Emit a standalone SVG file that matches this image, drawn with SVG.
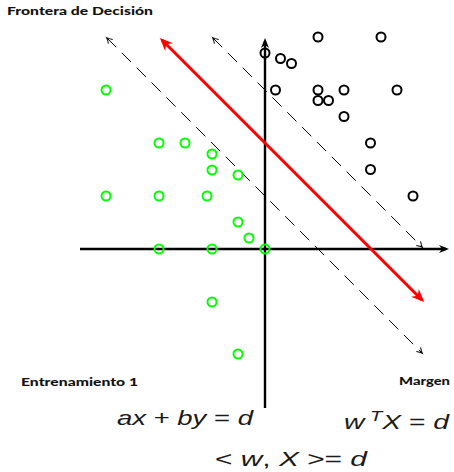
<svg xmlns="http://www.w3.org/2000/svg" width="454" height="472" viewBox="0 0 454 472">
<style>
.g{fill:none;stroke:#00ff00;stroke-width:2}
.k{fill:none;stroke:#000;stroke-width:2}
.axis{stroke:#000;stroke-width:2.4;fill:none}
.dash{stroke:#000;stroke-width:1;fill:none;stroke-dasharray:13 8}
.red{stroke:#ff0000;stroke-width:3;fill:none}
.lbl{font-family:"Lato","DejaVu Sans",sans-serif;font-weight:900;font-size:11px;fill:#111}
.math{font-family:"Liberation Sans","DejaVu Sans",sans-serif;font-size:21px;fill:#1a1a1a}
.it{font-style:italic}
.sup{font-size:15px;font-style:italic}
</style>
<defs>
<marker id="ax" markerUnits="userSpaceOnUse" orient="auto" overflow="visible" refX="0" refY="0">
<path d="M3,0 L-7,-4 L-4,0 L-7,4 Z" fill="#000"/>
</marker>
<marker id="rd" markerUnits="userSpaceOnUse" orient="auto-start-reverse" overflow="visible" refX="0" refY="0">
<path d="M3,0 L-10,-5.5 L-6,0 L-10,5.5 Z" fill="#ff0000"/>
</marker>
<marker id="dh" markerUnits="userSpaceOnUse" orient="auto-start-reverse" overflow="visible" refX="0" refY="0">
<path d="M-5,-3 Q-2,-0.8 0.5,0 Q-2,0.8 -5,3" fill="none" stroke="#000" stroke-width="1"/>
</marker>
</defs>
<rect width="454" height="472" fill="#fff"/>
<g id="connectors">
<line class="axis" x1="80" y1="249" x2="446" y2="249" marker-end="url(#ax)"/>
<line class="axis" x1="265" y1="408" x2="265" y2="41" marker-end="url(#ax)"/>
<line class="dash" x1="107" y1="38" x2="422" y2="353" marker-start="url(#dh)" marker-end="url(#dh)"/>
<line class="dash" x1="213" y1="38" x2="422" y2="247" marker-start="url(#dh)" marker-end="url(#dh)"/>
<line class="red" x1="162" y1="40" x2="422" y2="300" marker-start="url(#rd)" marker-end="url(#rd)"/>
</g>
<g id="green-points">
<g id="g1"><circle class="g" cx="106" cy="90" r="4.5"/></g>
<g id="g2"><circle class="g" cx="159" cy="143" r="4.5"/></g>
<g id="g3"><circle class="g" cx="185" cy="143" r="4.5"/></g>
<g id="g4"><circle class="g" cx="212" cy="154" r="4.5"/></g>
<g id="g5"><circle class="g" cx="212" cy="170" r="4.5"/></g>
<g id="g6"><circle class="g" cx="238" cy="175" r="4.5"/></g>
<g id="g7"><circle class="g" cx="106" cy="196" r="4.5"/></g>
<g id="g8"><circle class="g" cx="159" cy="196" r="4.5"/></g>
<g id="g9"><circle class="g" cx="207" cy="196" r="4.5"/></g>
<g id="g10"><circle class="g" cx="238" cy="222" r="4.5"/></g>
<g id="g11"><circle class="g" cx="249" cy="238" r="4.5"/></g>
<g id="g12"><circle class="g" cx="159" cy="249" r="4.5"/></g>
<g id="g13"><circle class="g" cx="212" cy="249" r="4.5"/></g>
<g id="g14"><circle class="g" cx="265" cy="249" r="4.5"/></g>
<g id="g15"><circle class="g" cx="212" cy="302" r="4.5"/></g>
<g id="g16"><circle class="g" cx="238" cy="354" r="4.5"/></g>
</g>
<g id="black-points">
<g id="k1"><circle class="k" cx="265" cy="53" r="4.5"/></g>
<g id="k2"><circle class="k" cx="280.5" cy="58.5" r="4.5"/></g>
<g id="k3"><circle class="k" cx="291.5" cy="63.5" r="4.5"/></g>
<g id="k4"><circle class="k" cx="318" cy="37" r="4.5"/></g>
<g id="k5"><circle class="k" cx="381" cy="37" r="4.5"/></g>
<g id="k6"><circle class="k" cx="275.5" cy="90" r="4.5"/></g>
<g id="k7"><circle class="k" cx="318" cy="90" r="4.5"/></g>
<g id="k8"><circle class="k" cx="344" cy="90" r="4.5"/></g>
<g id="k9"><circle class="k" cx="397" cy="90" r="4.5"/></g>
<g id="k10"><circle class="k" cx="318" cy="100.5" r="4.5"/></g>
<g id="k11"><circle class="k" cx="328.5" cy="100.5" r="4.5"/></g>
<g id="k12"><circle class="k" cx="344" cy="116.5" r="4.5"/></g>
<g id="k13"><circle class="k" cx="370.5" cy="143" r="4.5"/></g>
<g id="k14"><circle class="k" cx="370.5" cy="169.5" r="4.5"/></g>
<g id="k15"><circle class="k" cx="413" cy="196" r="4.5"/></g>
</g>
<g id="labels">
<text class="lbl" x="7" y="15" textLength="146" lengthAdjust="spacingAndGlyphs">Frontera de Decisión</text>
<text class="lbl" x="21" y="386" textLength="117" lengthAdjust="spacingAndGlyphs">Entrenamiento 1</text>
<text class="lbl" x="399" y="385" textLength="51" lengthAdjust="spacingAndGlyphs">Margen</text>
<text class="math" x="117" y="425" textLength="136" lengthAdjust="spacingAndGlyphs"><tspan class="it">ax</tspan> + <tspan class="it">by</tspan> = <tspan class="it">d</tspan></text>
<text class="math" x="344" y="429" textLength="105" lengthAdjust="spacingAndGlyphs"><tspan class="it">w</tspan><tspan class="sup" dy="-8"> T</tspan><tspan class="it" dy="8">X</tspan> = <tspan class="it">d</tspan></text>
<text class="math" x="215" y="466" textLength="152" lengthAdjust="spacingAndGlyphs">&lt; <tspan class="it">w</tspan>, <tspan class="it">X</tspan> &gt;= <tspan class="it">d</tspan></text>
</g>
</svg>
